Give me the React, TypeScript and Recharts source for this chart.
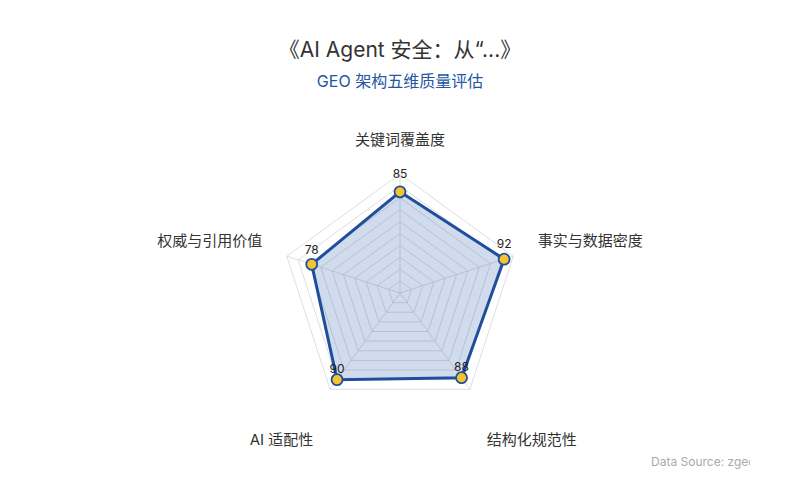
import React from 'react';
import { RadarChart, Radar, PolarGrid, PolarAngleAxis, PolarRadiusAxis, LabelList } from 'recharts';

const dimensions = ['关键词覆盖度', '事实与数据密度', '结构化规范性', 'AI 适配性', '权威与引用价值'];
const scores = [85, 92, 88, 90, 78];
const ringTicks = [0, 10, 20, 30, 40, 50, 60, 70, 80, 90, 100];

const title = '《AI Agent 安全：从“...》';
const subtitle = 'GEO 架构五维质量评估';
const source = 'Data Source: zgeo.ai';

const data = dimensions.map((name, i) => ({ name, score: scores[i] }));

const CX = 400;
const CY = 293;
const FONT = "Inter, 'Noto Sans CJK SC', 'Noto Sans', sans-serif";

const AngleTick = (props: any) => {
  const { x, y, payload } = props;
  const dx = x - CX;
  const dy = y - CY;
  let anchor: 'start' | 'middle' | 'end' = 'middle';
  let ox = 0;
  let oy = 0;
  if (Math.abs(dx) < 1) {
    oy = -27;
  } else if (dy < 0) {
    anchor = dx > 0 ? 'start' : 'end';
    ox = dx > 0 ? 17 : -17;
    oy = -13;
  } else {
    anchor = dx > 0 ? 'start' : 'end';
    ox = dx > 0 ? 12 : -12;
    oy = 44;
  }
  return (
    <text
      x={x + ox}
      y={y + oy}
      textAnchor={anchor}
      dominantBaseline="central"
      fill="#333"
      fontSize={15}
      fontFamily={FONT}
    >
      {payload.value}
    </text>
  );
};

const ValueLabel = (props: any) => {
  const { x, y, value } = props;
  const len = Math.hypot(x - CX, y - CY) || 1;
  const sin = (CY - y) / len;
  const off = -14 - 4 * sin;
  return (
    <text
      x={x}
      y={y + off}
      textAnchor="middle"
      dominantBaseline="central"
      fill="#222"
      fontSize={12}
      fontFamily={FONT}
    >
      {value}
    </text>
  );
};

const Dot = (props: any) => {
  const { cx, cy } = props;
  return <circle cx={cx} cy={cy} r={5.5} fill="#f4c430" stroke="#1f4e9c" strokeWidth={1.8} />;
};

export default function App() {
  return (
    <div style={{ position: 'relative', width: 800, height: 500, background: '#fff', fontFamily: FONT }}>
      <style>{'body{margin:0}'}</style>
      <div
        style={{
          position: 'absolute',
          top: 36,
          left: 0,
          width: 800,
          textAlign: 'center',
          fontSize: 21,
          color: '#333',
          lineHeight: '28px',
        }}
      >
        {title}
      </div>
      <div
        style={{
          position: 'absolute',
          top: 70,
          left: 0,
          width: 800,
          textAlign: 'center',
          fontSize: 16,
          color: '#2456a4',
          lineHeight: '22px',
        }}
      >
        {subtitle}
      </div>
      <RadarChart width={800} height={500} data={data} cx={CX} cy={CY} outerRadius={119} style={{ position: 'absolute', top: 0, left: 0 }}>
        <PolarGrid gridType="polygon" stroke="#d6d6d6" strokeWidth={0.8} />
        <PolarAngleAxis dataKey="name" tick={<AngleTick />} tickLine={false} axisLine={false} />
        <PolarRadiusAxis domain={[0, 100]} ticks={ringTicks as any} tickCount={11} tick={false} axisLine={false} />
        <Radar
          dataKey="score"
          stroke="#1f4e9c"
          strokeWidth={3}
          fill="#2258aa"
          fillOpacity={0.21}
          dot={<Dot />}
          isAnimationActive={false}
        >
          <LabelList dataKey="score" content={<ValueLabel />} />
        </Radar>
      </RadarChart>
      <div
        style={{
          position: 'absolute',
          top: 453,
          left: 651,
          width: 99,
          overflow: 'hidden',
          whiteSpace: 'nowrap',
          fontSize: 12,
          color: '#aaa',
          lineHeight: '18px',
        }}
      >
        {source}
      </div>
    </div>
  );
}
